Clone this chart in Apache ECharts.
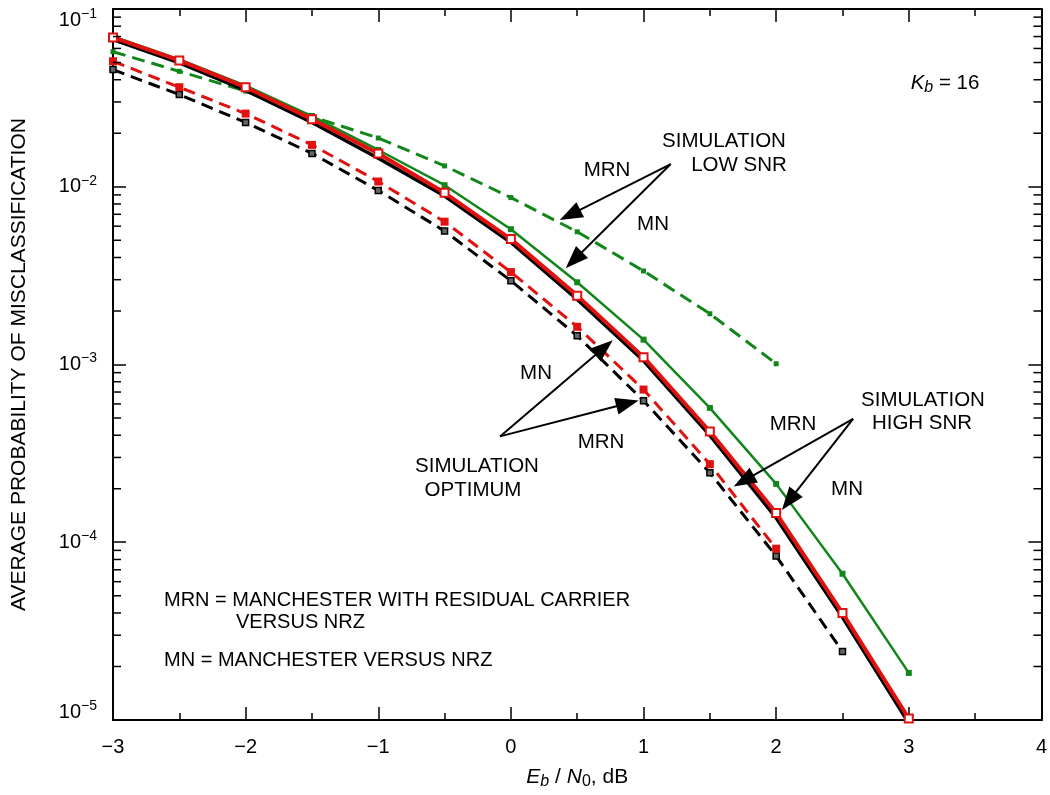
<!DOCTYPE html>
<html><head><meta charset="utf-8">
<script src="https://cdn.jsdelivr.net/npm/echarts@6/dist/echarts.min.js"></script>
<style>html,body{margin:0;padding:0;background:#fff}#c{width:1050px;height:795px}</style>
</head><body><div id="c"></div>
<script>
// ---- data ----
const ebn0 = [-3, -2.5, -2, -1.5, -1, -0.5, 0, 0.5, 1, 1.5, 2, 2.5, 3];
const mnLowSNR   = [0.0700, 0.0520, 0.0370, 0.0250, 0.0161, 0.0102, 0.00577, 0.00290, 0.00138, 0.00057, 0.000213, 0.0000665, 0.0000184];
const mrnLowSNR  = [0.0575, 0.0446, 0.0345, 0.0248, 0.0188, 0.0131, 0.00869, 0.00558, 0.00336, 0.00193, 0.00101];
const mnHighSNR  = [0.0692, 0.0514, 0.0363, 0.0240, 0.0154, 0.00925, 0.00508, 0.00244, 0.00110, 0.000420, 0.000146, 0.0000400, 0.0000102];
const mrnHighSNR = [0.0508, 0.0363, 0.0258, 0.0172, 0.0107, 0.00636, 0.00331, 0.00163, 0.000723, 0.000275, 0.0000920];
const mnOptimum  = [0.0672, 0.0498, 0.0348, 0.0230, 0.01445, 0.00887, 0.00486, 0.00232, 0.00105, 0.000399, 0.000137, 0.0000378, 0.0000096];
const mrnOptimum = [0.0456, 0.0330, 0.0230, 0.0154, 0.00953, 0.00563, 0.00296, 0.00145, 0.000626, 0.000246, 0.0000836, 0.0000243];
const xTicks = [-3, -2, -1, 0, 1, 2, 3, 4];
const yDecades = [1e-5, 1e-4, 1e-3, 1e-2, 1e-1];
const minorMult = [2, 3, 4, 5, 6, 7, 8, 9];

// annotation arrows: [apexX, apexY, tipX, tipY] in data units
const arrows = [
  [1.205, 0.01342, 0.368, 0.00649],
  [1.205, 0.01342, 0.413, 0.00348],
  [-0.082, 3.94e-4, 0.768, 1.37e-3],
  [-0.082, 3.94e-4, 0.963, 6.27e-4],
  [2.580, 4.94e-4, 1.680, 2.06e-4],
  [2.580, 4.94e-4, 2.043, 1.52e-4]
];

const FONT = '"Liberation Sans", Arial, Helvetica, sans-serif';
const GREEN = '#11871a', RED = '#e0120f', BLACK = '#000';

function pairs(ys) { return ys.map((v, i) => [ebn0[i], v]); }
const minorVals = [];
yDecades.slice(0, -1).forEach(d => minorMult.forEach(m => minorVals.push([-3, d * m])));

function supLabel(v) {
  const e = Math.round(Math.log10(v));
  const txt = '10', sup = '\u2212' + Math.abs(e);
  if (e === -1) return '{at|' + txt + '}{bt|' + sup + '}';
  if (e === -5) return '{ab|' + txt + '}{bb|' + sup + '}';
  return '{a|' + txt + '}{b|' + sup + '}';
}
const A = {fontFamily: FONT, fontSize: 20, color: '#000'};
const B = {fontFamily: FONT, fontSize: 14, color: '#000'};

const chart = echarts.init(document.getElementById('c'), null, {renderer: 'canvas'});
const axisLine = {show: true, onZero: false, lineStyle: {color: '#000', width: 2}};
const tick = {show: true, inside: true, length: 13, lineStyle: {color: '#000', width: 1.5}};
const option = {
  animation: false,
  backgroundColor: '#fff',
  grid: {left: 113, right: 1, top: 9, bottom: 69, containLabel: false},
  xAxis: [{
    type: 'value', min: -3, max: 4, interval: 1, position: 'bottom',
    axisLine: axisLine, splitLine: {show: false}, axisTick: tick,
    minorTick: {show: true, splitNumber: 2, length: 7, lineStyle: {color: '#000', width: 1.5}},
    axisLabel: {show: true, margin: 17, fontFamily: FONT, fontSize: 20, color: '#000',
      formatter: v => xTicks.includes(v) ? String(v).replace('-', '\u2212') : ''},
    name: '{i|E}{s|b}{n| / }{i|N}{z|0}{n|, dB}', nameLocation: 'middle', nameGap: 45,
    nameTextStyle: {rich: {
      i: {fontFamily: FONT, fontSize: 21, fontStyle: 'italic', color: '#000'},
      s: {fontFamily: FONT, fontSize: 16, fontStyle: 'italic', color: '#000', padding: [9, 0, 0, 0]},
      z: {fontFamily: FONT, fontSize: 16, color: '#000', padding: [9, 0, 0, 0]},
      n: {fontFamily: FONT, fontSize: 21, color: '#000'}
    }}
  }, {
    type: 'value', min: -3, max: 4, interval: 1, position: 'top',
    axisLine: axisLine, splitLine: {show: false}, axisTick: tick,
    minorTick: {show: true, splitNumber: 2, length: 7, lineStyle: {color: '#000', width: 1.5}},
    axisLabel: {show: false}
  }],
  yAxis: [{
    type: 'log', logBase: 10, min: 1e-5, max: 1e-1, position: 'left',
    axisLine: axisLine, splitLine: {show: false}, axisTick: tick,
    minorTick: {show: false},
    axisLabel: {show: true, margin: 16, formatter: supLabel,
      rich: {
        a: A, b: Object.assign({padding: [0, 0, 12, 0]}, B),
        at: Object.assign({padding: [22, 0, 0, 0]}, A), bt: Object.assign({padding: [22, 0, 12, 0]}, B),
        ab: Object.assign({padding: [0, 0, 15, 0]}, A), bb: Object.assign({padding: [0, 0, 27, 0]}, B)
      }},
    name: 'AVERAGE PROBABILITY OF MISCLASSIFICATION', nameLocation: 'middle', nameGap: 83,
    nameTextStyle: {fontFamily: FONT, fontSize: 21, color: '#000'}
  }, {
    type: 'log', logBase: 10, min: 1e-5, max: 1e-1, position: 'right',
    axisLine: axisLine, splitLine: {show: false}, axisTick: tick,
    axisLabel: {show: false}
  }],
  series: [
    {
      type: 'custom', name: 'minorTicks', data: minorVals, silent: true, z: 5,
      renderItem: function (params, api) {
        const cs = params.coordSys;
        const p = api.coord([api.value(0), api.value(1)]);
        const st = {stroke: '#000', lineWidth: 1.5};
        return {type: 'group', children: [
          {type: 'line', shape: {x1: cs.x, y1: p[1], x2: cs.x + 8, y2: p[1]}, style: st},
          {type: 'line', shape: {x1: cs.x + cs.width - 8, y1: p[1], x2: cs.x + cs.width, y2: p[1]}, style: st}
        ]};
      }
    },
    {name: 'MN low SNR', type: 'line', data: pairs(mnLowSNR), z: 3,
      lineStyle: {color: GREEN, width: 2.5}, symbol: 'rect', symbolSize: 6,
      itemStyle: {color: GREEN}},
    {name: 'MRN low SNR', type: 'line', data: pairs(mrnLowSNR), z: 3,
      lineStyle: {color: GREEN, width: 3, type: [13, 7]}, symbol: 'rect', symbolSize: 5,
      itemStyle: {color: GREEN}},
    {name: 'MRN optimum', type: 'line', data: pairs(mrnOptimum), z: 3,
      lineStyle: {color: BLACK, width: 3, type: [12, 7]}, symbol: 'rect', symbolSize: 6,
      itemStyle: {color: '#666', borderColor: '#000', borderWidth: 1.5}},
    {name: 'MRN high SNR', type: 'line', data: pairs(mrnHighSNR), z: 4,
      lineStyle: {color: RED, width: 3, type: [12, 7]}, symbol: 'rect', symbolSize: 8,
      itemStyle: {color: RED}},
    {name: 'MN optimum', type: 'line', data: pairs(mnOptimum), z: 4,
      lineStyle: {color: BLACK, width: 3.5}, showSymbol: false, symbol: 'none'},
    {name: 'MN high SNR', type: 'line', data: pairs(mnHighSNR), z: 4,
      lineStyle: {color: RED, width: 4}, symbol: 'rect', symbolSize: 8,
      itemStyle: {color: '#fff', borderColor: RED, borderWidth: 2}}
  ]
};
chart.setOption(option);

// annotations
const FS = 20.5;
const T = (text, x, y, extra) => Object.assign({type: 'text', z: 20, style: Object.assign({
  text: text, x: x, y: y, fill: '#000', font: FS + 'px ' + FONT, align: 'center', verticalAlign: 'middle'}, extra || {})});
const g = [
  {type: 'text', z: 20, style: {x: 945, y: 83, align: 'center', verticalAlign: 'middle',
    text: '{i|K}{s|b}{n| = 16}', rich: {
      i: {fontFamily: FONT, fontSize: 20.5, fontStyle: 'italic', fill: '#000'},
      s: {fontFamily: FONT, fontSize: 16, fontStyle: 'italic', fill: '#000', padding: [10, 0, 0, 0]},
      n: {fontFamily: FONT, fontSize: 20.5, fill: '#000'}}}},
  T('SIMULATION', 724, 141), T('LOW SNR', 739, 165),
  T('MRN', 607, 170), T('MN', 653, 224),
  T('MN', 536, 373), T('MRN', 601, 442),
  T('SIMULATION', 477, 466), T('OPTIMUM', 473, 490),
  T('SIMULATION', 923, 400), T('HIGH SNR', 922, 423),
  T('MRN', 793, 424), T('MN', 847, 489),
  T('MRN = MANCHESTER WITH RESIDUAL CARRIER', 164, 600, {align: 'left', font: '20px ' + FONT}),
  T('VERSUS NRZ', 236, 622, {align: 'left', font: '20px ' + FONT}),
  T('MN = MANCHESTER VERSUS NRZ', 164, 660, {align: 'left', font: '20px ' + FONT})
];
arrows.forEach(a => {
  const p0 = chart.convertToPixel({xAxisIndex: 0, yAxisIndex: 0}, [a[0], a[1]]);
  const p1 = chart.convertToPixel({xAxisIndex: 0, yAxisIndex: 0}, [a[2], a[3]]);
  const dx = p1[0] - p0[0], dy = p1[1] - p0[1];
  const L = Math.sqrt(dx * dx + dy * dy), ux = dx / L, uy = dy / L;
  const hl = 23, hw = 8.5;
  const bx = p1[0] - ux * hl, by = p1[1] - uy * hl;
  g.push({type: 'line', z: 19, shape: {x1: p0[0], y1: p0[1], x2: bx + ux * 2, y2: by + uy * 2},
    style: {stroke: '#000', lineWidth: 2}});
  g.push({type: 'polygon', z: 19, shape: {points: [[p1[0], p1[1]], [bx - uy * hw, by + ux * hw], [bx + uy * hw, by - ux * hw]]},
    style: {fill: '#000'}});
});
chart.setOption({graphic: g});
</script>
</body></html>
